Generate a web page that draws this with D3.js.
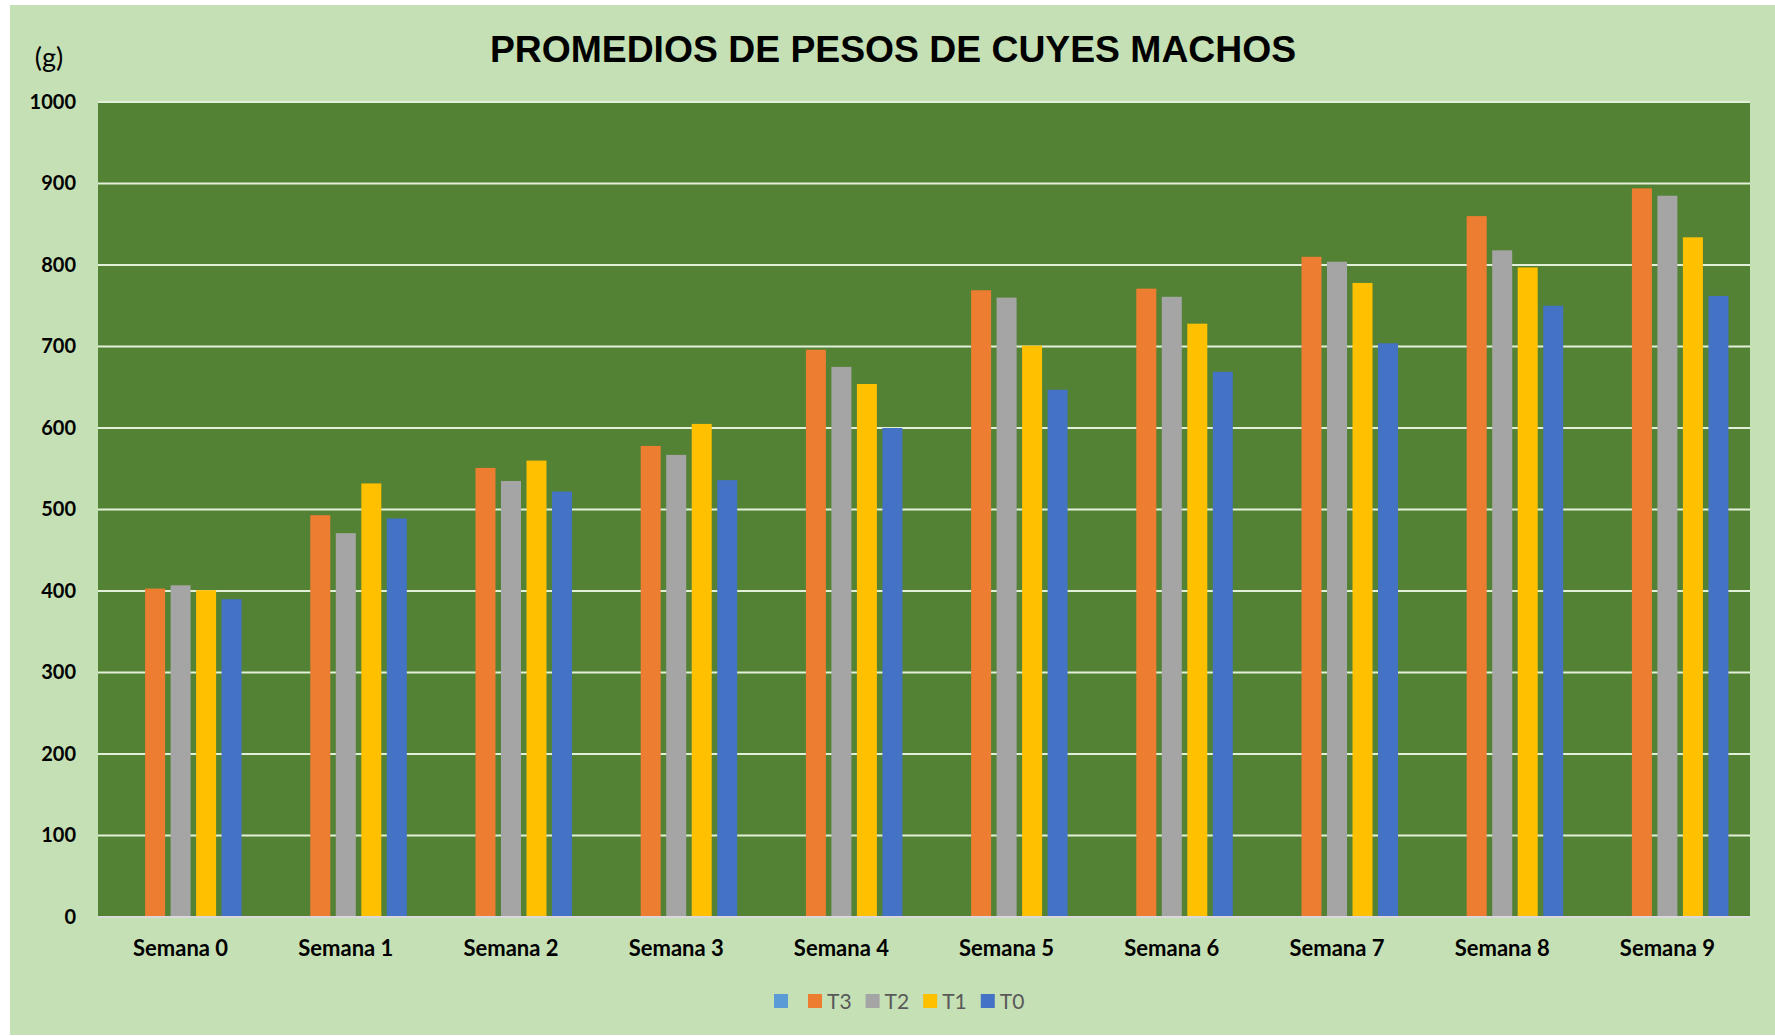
<!DOCTYPE html>
<html>
<head>
<meta charset="utf-8">
<script src="https://cdn.jsdelivr.net/npm/d3@7"></script>
<style>
  body { margin: 0; background: #ffffff; }
  svg { display: block; }
</style>
</head>
<body>
<script>
// Data
const categories = ["Semana 0", "Semana 1", "Semana 2", "Semana 3", "Semana 4",
                    "Semana 5", "Semana 6", "Semana 7", "Semana 8", "Semana 9"];
const seriesNames = ["", "T3", "T2", "T1", "T0"];
const seriesColors = ["#5b9bd5", "#ed7d31", "#a5a5a5", "#ffc000", "#4472c4"];
const blank = [null, null, null, null, null, null, null, null, null, null];
const t3 = [403, 493, 551, 578, 696, 769, 771, 810, 860, 894];
const t2 = [407, 471, 535, 567, 675, 760, 761, 804, 818, 885];
const t1 = [401, 532, 560, 605, 654, 701, 728, 778, 797, 834];
const t0 = [390, 489, 522, 536, 600, 647, 669, 704, 750, 762];
const yTicks = [0, 100, 200, 300, 400, 500, 600, 700, 800, 900, 1000];

const seriesValues = [blank, t3, t2, t1, t0];

let svgWidth = 1775;
let svgHeight = 1036;

let plot = { left: 98, top: 102, right: 1750, bottom: 917 };

let svg = d3.select("body")
  .append("svg")
  .attr("width", svgWidth)
  .attr("height", svgHeight);

// chart background
svg.append("rect")
  .attr("x", 10).attr("y", 5)
  .attr("width", svgWidth - 10).attr("height", svgHeight - 6)
  .attr("fill", "#c5e0b4");

// plot area
svg.append("rect")
  .attr("x", plot.left).attr("y", plot.top)
  .attr("width", plot.right - plot.left).attr("height", plot.bottom - plot.top)
  .attr("fill", "#548235");

// Scales
let x0 = d3.scaleBand()
  .domain(categories)
  .range([plot.left, plot.right])
  .padding(0);

let groupPad = 21.6;
let x1 = d3.scaleBand()
  .domain(seriesNames.map((d, i) => i))
  .range([groupPad, x0.bandwidth() - groupPad])
  .paddingInner(0.216)
  .paddingOuter(0);

let y = d3.scaleLinear()
  .domain([0, 1000])
  .range([plot.bottom, plot.top]);

// gridlines
svg.append("g")
  .selectAll("line")
  .data(yTicks.filter(d => d > 0))
  .enter().append("line")
  .attr("x1", plot.left).attr("x2", plot.right)
  .attr("y1", d => y(d)).attr("y2", d => y(d))
  .attr("stroke", "#e2efd9")
  .attr("stroke-width", 2);

// bars
let rows = [];
seriesValues.forEach((vals, s) => {
  vals.forEach((v, c) => {
    if (v != null) rows.push({ s: s, c: categories[c], v: v });
  });
});

svg.append("g")
  .selectAll("rect")
  .data(rows)
  .enter().append("rect")
  .attr("x", d => x0(d.c) + x1(d.s))
  .attr("width", x1.bandwidth())
  .attr("y", d => y(d.v))
  .attr("height", d => y(0) - y(d.v))
  .attr("fill", d => seriesColors[d.s]);

// x axis line
svg.append("line")
  .attr("x1", plot.left).attr("x2", plot.right)
  .attr("y1", plot.bottom).attr("y2", plot.bottom)
  .attr("stroke", "#d9d9d9")
  .attr("stroke-width", 2);

// y axis labels
let leftAxis = d3.axisLeft(y).tickValues(yTicks).tickFormat(d3.format("d"))
  .tickSize(0).tickPadding(0);
let yAxisG = svg.append("g")
  .attr("transform", "translate(76,0)")
  .call(leftAxis);
yAxisG.select(".domain").remove();
yAxisG.selectAll("text")
  .attr("font-family", "Lato, 'Open Sans', sans-serif")
  .attr("font-weight", "bold")
  .attr("font-size", 20)
  .attr("fill", "#000");

// x axis labels
let bottomAxis = d3.axisBottom(x0).tickSize(0).tickPadding(0);
let xAxisG = svg.append("g")
  .attr("transform", `translate(0, ${plot.bottom})`)
  .call(bottomAxis);
xAxisG.select(".domain").remove();
xAxisG.selectAll("text")
  .attr("dy", null)
  .attr("y", 39)
  .attr("font-family", "Lato, 'Open Sans', sans-serif")
  .attr("font-weight", "bold")
  .attr("font-size", 22)
  .attr("fill", "#000");

// title
svg.append("text")
  .attr("x", 893)
  .attr("y", 62)
  .attr("text-anchor", "middle")
  .attr("font-family", "'Liberation Sans', Arial, sans-serif")
  .attr("font-weight", "bold")
  .attr("font-size", 37.3)
  .attr("fill", "#000")
  .text("PROMEDIOS DE PESOS DE CUYES MACHOS");

// unit label
svg.append("text")
  .attr("x", 49)
  .attr("y", 67)
  .attr("text-anchor", "middle")
  .attr("font-family", "Lato, 'Open Sans', sans-serif")
  .attr("font-size", 27)
  .attr("fill", "#000")
  .text("(g)");

// legend
let legend = svg.append("g").attr("transform", "translate(774, 1001)");
let lx = 0;
seriesNames.forEach((name, i) => {
  let item = legend.append("g").attr("transform", `translate(${lx},0)`);
  item.append("rect")
    .attr("x", 0).attr("y", -7)
    .attr("width", 14).attr("height", 14)
    .attr("fill", seriesColors[i]);
  let tw = 0;
  if (name) {
    let t = item.append("text")
      .attr("x", 19)
      .attr("y", 7.5)
      .attr("font-family", "Lato, 'Open Sans', sans-serif")
      .attr("font-size", 21)
      .attr("fill", "#595959")
      .text(name);
    tw = t.node().getComputedTextLength() + 5;
    lx += 14 + tw + 14;
  } else {
    lx += 34;
  }
});
</script>
</body>
</html>
